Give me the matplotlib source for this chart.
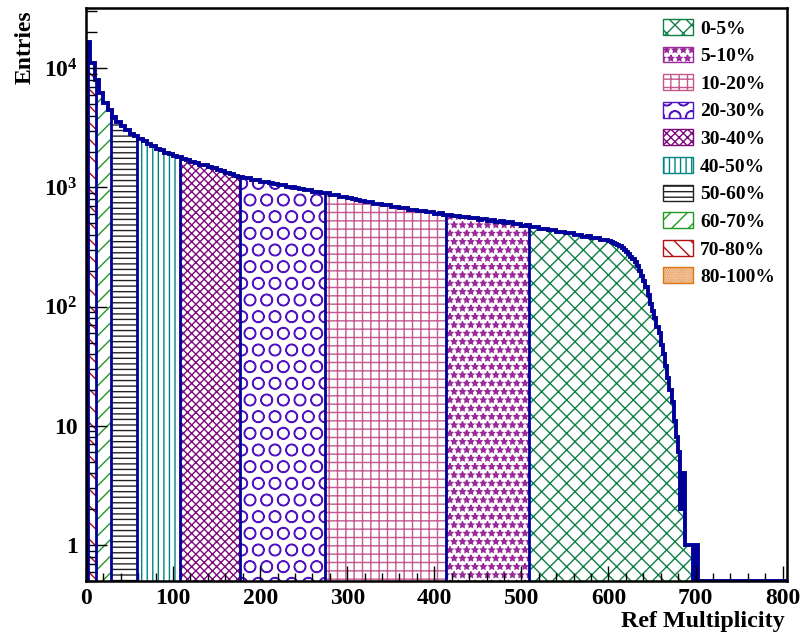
import numpy as np
import matplotlib
matplotlib.use("Agg")
import matplotlib.pyplot as plt
from matplotlib.patches import Patch
from matplotlib.ticker import MultipleLocator, LogLocator, FuncFormatter, NullFormatter

plt.rcParams['font.family'] = ['Liberation Serif', 'DejaVu Serif']
plt.rcParams['font.weight'] = 'bold'
plt.rcParams['mathtext.fontset'] = 'custom'
plt.rcParams['mathtext.rm'] = 'Liberation Serif:bold'
plt.rcParams['mathtext.bf'] = 'Liberation Serif:bold'
plt.rcParams['mathtext.it'] = 'Liberation Serif:bold'
plt.rcParams['hatch.linewidth'] = 1.0

# RefMult histogram: 5-unit bins from 0 to 600
counts_main = [
    16500, 11000, 7900, 6200, 5150, 4450, 3930, 3570, 3250, 3040,
    2810, 2690, 2550, 2440, 2300, 2230, 2110, 2050, 1950, 1910,
    1830, 1790, 1730, 1700, 1630, 1610, 1550, 1530, 1470, 1450,
    1390, 1375, 1320, 1300, 1250, 1230, 1200, 1195, 1160, 1150,
    1120, 1110, 1080, 1075, 1045, 1040, 1010, 1005, 980, 975,
    950, 945, 920, 918, 895, 890, 865, 860, 835, 830,
    808, 802, 780, 774, 752, 750, 730, 729, 710, 707,
    690, 688, 670, 667, 650, 650, 634, 635, 618, 620,
    604, 606, 592, 593, 577, 579, 562, 564, 549, 550,
    537, 539, 526, 529, 516, 519, 506, 509, 493, 494,
    479, 480, 465, 466, 451, 452, 437, 439, 424, 426,
    411, 413, 399, 401, 387, 389, 375, 377, 363, 365,
]
# 2.5-unit bins from 600 to 705 (steep tail)
counts_tail = [
    355, 350, 345, 338, 330, 322, 312, 300, 290, 275,
    262, 250, 235, 218, 200, 180, 165, 145, 125, 105,
    92, 80, 68, 60, 48, 40, 32, 25, 20, 16,
    11, 8, 6, 2, 4, 1, 1, 1, 1, 0,
    1, 0,
]
x_max = 805

# centrality classes (RefMult ranges)
class_labels = ['0-5%', '5-10%', '10-20%', '20-30%', '30-40%',
                '40-50%', '50-60%', '60-70%', '70-80%', '80-100%']
class_lo = [509, 413, 275, 177, 108, 59, 29, 12, 2, 0]
class_hi = [805, 509, 413, 275, 177, 108, 59, 29, 12, 2]
class_colors = ['#0f7f45', '#9a2a9a', '#c4588e', '#5214c0', '#7c0a7c',
                '#008585', '#222222', '#1f9a1f', '#b01010', '#dd7416']
class_hatches = ['xx', '**', '++', 'O', 'xxxx', '|||', '---', '//', '\\\\', '.........']

line_blue = '#000099'

edges = np.concatenate([np.arange(0, 600, 5), np.arange(600, 705, 2.5),
                        np.arange(705, x_max + 1, 5)])
n_bins = len(edges) - 1
vals = np.array(counts_main + counts_tail, dtype=float)
vals = np.append(vals, np.zeros(n_bins - len(vals)))

fig = plt.figure(figsize=(8, 6.4), dpi=100)
ax = fig.add_axes([86 / 800, 1 - 581 / 640, (787 - 86) / 800, (581 - 8) / 640])

y_min, y_max = 0.5, 3.2e4

# hatched areas for every class
for lo, hi, c, h in zip(class_lo, class_hi, class_colors, class_hatches):
    e = np.clip(edges, lo, hi)
    idx = np.nonzero(np.diff(e) > 0)[0]
    sub_edges = np.append(e[idx], e[idx[-1] + 1])
    ax.stairs(vals[idx], sub_edges, baseline=y_min, fill=True,
              facecolor='white', edgecolor=c, hatch=h, linewidth=0)

# class borders
for b in class_lo:
    if b <= 0:
        continue
    i = np.searchsorted(edges, b, side='right') - 1
    ax.vlines(b, y_min, vals[i], color=line_blue, linewidth=2)

# total histogram, empty bins drawn on the axis like ROOT does
draw_vals = np.where(vals > 0, vals, y_min)
ax.stairs(draw_vals, edges, baseline=y_min, color=line_blue, linewidth=2.8)

ax.set_yscale('log')
ax.set_xlim(0, x_max)
ax.set_ylim(y_min, y_max)

ax.xaxis.set_major_locator(MultipleLocator(100))
ax.xaxis.set_minor_locator(MultipleLocator(20))
ax.yaxis.set_major_locator(LogLocator(base=10, numticks=10))
ax.yaxis.set_minor_locator(LogLocator(base=10, subs=np.arange(2, 10), numticks=20))
ax.yaxis.set_minor_formatter(NullFormatter())


def ylab(v, pos):
    if v == 1:
        return '1'
    if v == 10:
        return '10'
    return r'$\mathbf{10^{%d}}$' % int(round(np.log10(v)))


ax.yaxis.set_major_formatter(FuncFormatter(ylab))

ax.tick_params(axis='x', which='major', direction='in', length=11, width=1,
               labelsize=17, pad=5, top=False)
ax.tick_params(axis='x', which='minor', direction='in', length=5.5, width=1, top=False)
ax.tick_params(axis='y', which='major', direction='in', length=15, width=1,
               labelsize=17, pad=6, right=False)
ax.tick_params(axis='y', which='minor', direction='in', length=8, width=1, right=False)
for s in ax.spines.values():
    s.set_linewidth(1.8)

fig.text(785 / 800, 1 - 622 / 640, 'Ref Multiplicity', ha='right', va='center',
         fontsize=17.3, fontweight='bold')
fig.text(25 / 800, 1 - 47 / 640, 'Entries', rotation=90, ha='center', va='center',
         fontsize=17, fontweight='bold')

handles = [Patch(facecolor='white', edgecolor=c, hatch=h, linewidth=1, label=l)
           for l, c, h in zip(class_labels, class_colors, class_hatches)]
fig.legend(handles=handles, loc='upper left', bbox_to_anchor=(663 / 800, 1 - 19 / 640),
           frameon=False, fontsize=14, handlelength=1.55, handleheight=0.88,
           handletextpad=0.36, labelspacing=0.46, borderpad=0, borderaxespad=0)

fig.savefig('out.png', dpi=100)
